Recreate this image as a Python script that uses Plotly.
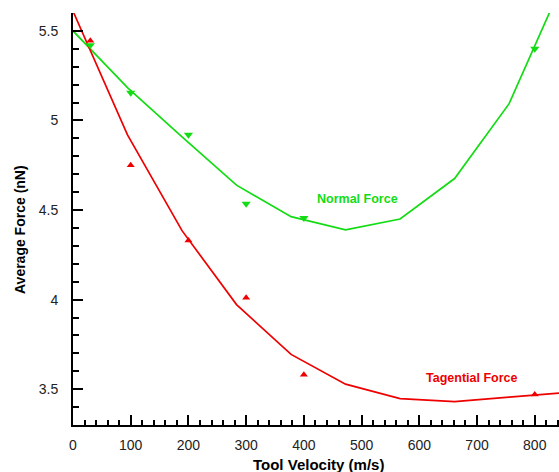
import plotly.graph_objects as go

# Fitted curves (evaluated on a grid of velocities)
curve_x = [0, 94.4, 188.9, 283.3, 377.8, 472.2, 566.7, 661.1, 755.6, 850]
tangential_curve = [5.61, 4.92, 4.385, 3.972, 3.694, 3.528, 3.447, 3.431, 3.456, 3.48]
normal_curve = [5.5, 5.183, 4.909, 4.639, 4.463, 4.389, 4.45, 4.676, 5.094, 5.78]

# Simulated data points
point_x = [30, 100, 200, 300, 400, 800]
tangential_pts = [5.445, 4.75, 4.33, 4.01, 3.58, 3.47]
normal_pts = [5.42, 5.155, 4.92, 4.535, 4.455, 5.40]

RED = "#ee0000"
GREEN = "#14dc14"
FONT = "Arial, Liberation Sans, sans-serif"

fig = go.Figure()
fig.add_trace(go.Scatter(x=curve_x, y=normal_curve, mode="lines",
                         line=dict(color=GREEN, width=1.7), showlegend=False))
fig.add_trace(go.Scatter(x=curve_x, y=tangential_curve, mode="lines",
                         line=dict(color=RED, width=1.7), showlegend=False))
fig.add_trace(go.Scatter(x=point_x, y=normal_pts, mode="markers",
                         marker=dict(symbol="triangle-down", size=8, color=GREEN),
                         showlegend=False))
fig.add_trace(go.Scatter(x=point_x, y=tangential_pts, mode="markers",
                         marker=dict(symbol="triangle-up", size=7, color=RED),
                         showlegend=False))

fig.add_annotation(x=493, y=4.56, text="<b>Normal Force</b>", showarrow=False,
                   font=dict(family=FONT, size=12.5, color=GREEN))
fig.add_annotation(x=692, y=3.561, text="<b>Tagential Force</b>", showarrow=False,
                   font=dict(family=FONT, size=12.5, color=RED))

# Axis titles placed via paper coordinates (plot area: x 73..559, y 13..425 px)
fig.add_annotation(x=(318 - 73) / 486, xref="paper", y=(425 - 464) / 412, yref="paper",
                   xanchor="center", yanchor="middle",
                   text="<b>Tool Velocity (m/s)</b>", showarrow=False,
                   font=dict(family=FONT, size=15, color="black"))
fig.add_annotation(x=(20 - 73) / 486, xref="paper", y=(425 - 230) / 412, yref="paper",
                   xanchor="center", yanchor="middle",
                   text="<b>Average Force (nN)</b>", textangle=-90, showarrow=False,
                   font=dict(family=FONT, size=14, color="black"))

axis_common = dict(showgrid=False, zeroline=False, showline=True, linecolor="black",
                   linewidth=2, ticks="inside", tickcolor="black", tickwidth=2,
                   ticklen=10, tickfont=dict(family=FONT, size=14, color="#222"))

fig.update_xaxes(range=[0, 842], dtick=100, tick0=0,
                 minor=dict(dtick=20, ticks="inside", ticklen=5, tickwidth=1.5, tickcolor="black"),
                 ticklabelstandoff=6, **axis_common)
fig.update_yaxes(range=[3.3, 5.6], dtick=0.5, tick0=3.5,
                 minor=dict(dtick=0.1, ticks="inside", ticklen=6, tickwidth=1.5, tickcolor="black"),
                 ticklabelstandoff=10, **axis_common)

fig.update_layout(
    width=559, height=472,
    margin=dict(l=73, r=0, t=13, b=47),
    paper_bgcolor="white", plot_bgcolor="white",
    font=dict(family=FONT),
)

fig.write_html("out.html", config={"displayModeBar": False},
               post_script="document.body.style.margin='0';")
